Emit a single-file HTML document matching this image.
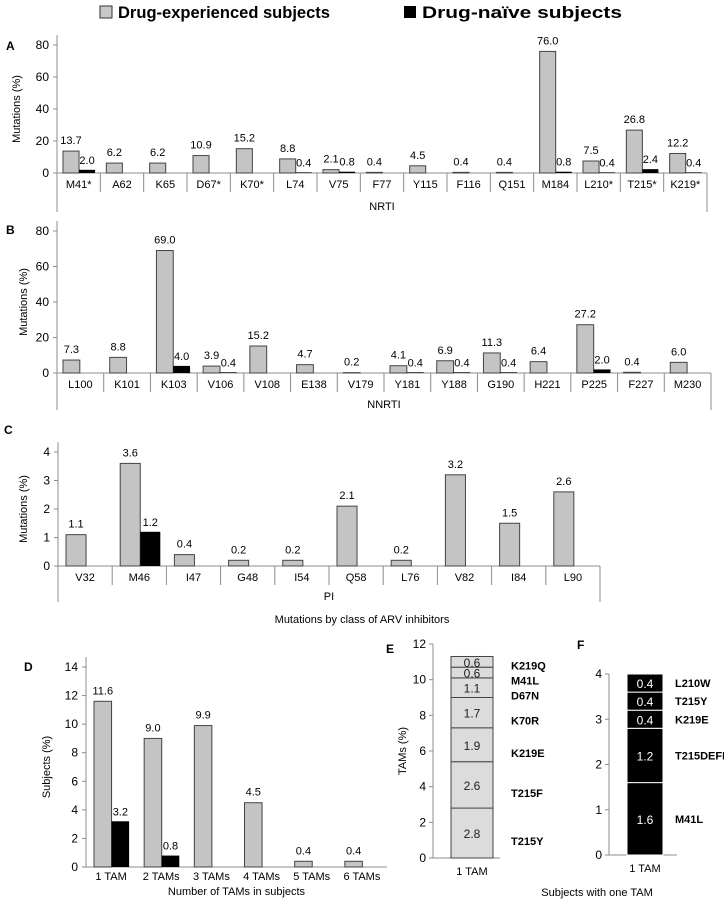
<!DOCTYPE html>
<html><head><meta charset="utf-8"><style>
body{margin:0;background:#fff}
svg{display:block;font-family:"Liberation Sans",Arial,sans-serif}
</style></head><body>
<svg id="fig" width="724" height="900" viewBox="0 0 724 900">
<g>
<rect x="100" y="6" width="12" height="12" fill="#c8c8c8" stroke="#333"/>
<text x="118" y="18" font-size="17" font-weight="bold" textLength="212" lengthAdjust="spacingAndGlyphs">Drug-experienced  subjects</text>
<rect x="404" y="6" width="12" height="12" fill="#000"/>
<text x="422" y="18" font-size="17" font-weight="bold" textLength="200" lengthAdjust="spacingAndGlyphs">Drug-naïve  subjects</text>
</g>
<text x="362" y="623" font-size="11" text-anchor="middle">Mutations  by class of ARV inhibitors</text>
</svg>
<script>
const nrtiCats=["M41*","A62","K65","D67*","K70*","L74","V75","F77","Y115","F116","Q151","M184","L210*","T215*","K219*"];
const nrtiExp=[13.7,6.2,6.2,10.9,15.2,8.8,2.1,0.4,4.5,0.4,0.4,76.0,7.5,26.8,12.2];
const nrtiNaive=[2.0,null,null,null,null,0.4,0.8,null,null,null,null,0.8,0.4,2.4,0.4];
const nrtiTicks=[0,20,40,60,80];
const nnrtiCats=["L100","K101","K103","V106","V108","E138","V179","Y181","Y188","G190","H221","P225","F227","M230"];
const nnrtiExp=[7.3,8.8,69.0,3.9,15.2,4.7,0.2,4.1,6.9,11.3,6.4,27.2,0.4,6.0];
const nnrtiNaive=[null,null,4.0,0.4,null,null,null,0.4,0.4,0.4,null,2.0,null,null];
const nnrtiTicks=[0,20,40,60,80];
const piCats=["V32","M46","I47","G48","I54","Q58","L76","V82","I84","L90"];
const piExp=[1.1,3.6,0.4,0.2,0.2,2.1,0.2,3.2,1.5,2.6];
const piNaive=[null,1.2,null,null,null,null,null,null,null,null];
const piTicks=[0,1,2,3,4];
const tamCats=["1 TAM","2 TAMs","3 TAMs","4 TAMs","5 TAMs","6 TAMs"];
const tamExp=[11.6,9.0,9.9,4.5,0.4,0.4];
const tamNaive=[3.2,0.8,null,null,null,null];
const tamTicks=[0,2,4,6,8,10,12,14];
const eLabels=["T215Y","T215F","K219E","K70R","D67N","M41L","K219Q"];
const eValues=[2.8,2.6,1.9,1.7,1.1,0.6,0.6];
const eTicks=[0,2,4,6,8,10,12];
const fLabels=["M41L","T215DEFI","K219E","T215Y","L210W"];
const fValues=[1.6,1.2,0.4,0.4,0.4];
const fTicks=[0,1,2,3,4];

const NS="http://www.w3.org/2000/svg";
const svg=document.getElementById('fig');
function mk(tag,attrs,parent,txt){const e=document.createElementNS(NS,tag);for(const k in attrs)e.setAttribute(k,attrs[k]);if(txt!==undefined)e.textContent=txt;(parent||svg).appendChild(e);return e;}
const GRAY="#c4c4c4",AX="#8c8c8c";

function grouped(o){
  const g=mk('g',{});
  
  
  const y=v=>o.y0-(v/o.max)*(o.y0-o.yTop);
  const cw=(o.x1-o.x0)/o.cats.length;
  const ya=mk('line',{x1:o.x0,y1:o.yTop-10,x2:o.x0,y2:o.y0,stroke:AX},g);
  
  
  o.ticks.forEach(t=>{
    mk('line',{x1:o.x0-4,y1:y(t),x2:o.x0,y2:y(t),stroke:AX},g);
    const tl=mk('text',{x:o.x0-8,y:y(t)+4,'font-size':12,'text-anchor':'end'},g,String(t));
    
    
  });
  const xa=mk('line',{x1:o.x0,y1:o.y0,x2:o.x1,y2:o.y0,stroke:AX},g);
  
  
  const yt=mk('text',{x:0,y:0,'font-size':11,'text-anchor':'middle',transform:`translate(${o.ytX},${(o.y0+o.yTop)/2}) rotate(-90)`},g,o.yTitle);
  
  
  const pl=mk('text',{x:o.letterX,y:o.letterY,'font-size':12,'font-weight':'bold'},g,o.letter);
  
  
  const bw=cw*o.barFrac;
  o.cats.forEach((c,i)=>{
    const cx=o.x0+cw*i;
    if(o.cells){
      mk('line',{x1:cx+cw,y1:o.y0,x2:cx+cw,y2:o.y0+19,stroke:AX},g);
    }
    const cl=mk('text',{x:cx+cw/2,y:o.y0+(o.cells?15:13),'font-size':o.catSize||11,'text-anchor':'middle'},g,c);
    
    
    const gx=cx+o.off;
    const ge=o.exp[i];
    if(ge!=null){
      const r=mk('rect',{x:gx,y:y(ge),width:bw,height:o.y0-y(ge),fill:GRAY,stroke:'#444','stroke-width':1},g);
      
      
      const vl=mk('text',{x:gx+bw/2,y:y(ge)-7,'font-size':11,'text-anchor':'middle'},g,ge.toFixed(1));
      
      
    }
    const nv=o.naive[i];
    if(nv!=null){
      const r=mk('rect',{x:gx+bw,y:y(nv),width:bw,height:o.y0-y(nv),fill:'#000'},g);
      
      
      const vl=mk('text',{x:gx+bw*1.5,y:y(nv)-6,'font-size':11,'text-anchor':'middle'},g,nv.toFixed(1));
      
      
    }
  });
  if(o.cells){
    mk('line',{x1:o.x0,y1:o.y0,x2:o.x0,y2:o.extY,stroke:AX},g);
    mk('line',{x1:o.x1,y1:o.y0,x2:o.x1,y2:o.extY,stroke:AX},g);
    const gl=mk('text',{x:(o.x0+o.x1)/2,y:o.groupY,'font-size':11,'text-anchor':'middle'},g,o.group);
    
    
  }
  if(o.xTitle){
    const xt=mk('text',{x:(o.x0+o.x1)/2,y:o.xTitleY,'font-size':11,'text-anchor':'middle'},g,o.xTitle);
    
    
  }
}
grouped({name:'panel-a-nrti',letter:'A',letterX:6,letterY:50,cats:nrtiCats,exp:nrtiExp,naive:nrtiNaive,ticks:nrtiTicks,max:80,x0:57,x1:707,y0:173,yTop:45,off:6,barFrac:0.37,cells:true,extY:212,group:'NRTI',groupY:210,yTitle:'Mutations (%)',ytX:20});
grouped({name:'panel-b-nnrti',letter:'B',letterX:6,letterY:234,cats:nnrtiCats,exp:nnrtiExp,naive:nnrtiNaive,ticks:nnrtiTicks,max:80,x0:57,x1:711,y0:373,yTop:231,off:6,barFrac:0.36,cells:true,extY:410,group:'NNRTI',groupY:408,yTitle:'Mutations (%)',ytX:27});
grouped({name:'panel-c-pi',letter:'C',letterX:4,letterY:434,cats:piCats,exp:piExp,naive:piNaive,ticks:piTicks,max:4,x0:58,x1:600,y0:566,yTop:452,off:8,barFrac:0.37,cells:true,extY:602,group:'PI',groupY:600,yTitle:'Mutations (%)',ytX:27});
grouped({name:'panel-d-tams',letter:'D',letterX:24,letterY:671,cats:tamCats,exp:tamExp,naive:tamNaive,ticks:tamTicks,max:14,x0:86,x1:387,y0:867,yTop:667,off:8,barFrac:0.35,cells:false,catSize:11,yTitle:'Subjects (%)',ytX:50,xTitle:'Number of TAMs in subjects',xTitleY:895});

function stacked(o){
  const g=mk('g',{});
  
  
  const y=v=>o.y0-(v/o.max)*(o.y0-o.yTop);
  const ya=mk('line',{x1:o.x0,y1:o.yTop,x2:o.x0,y2:o.y0,stroke:AX},g);
  
  
  mk('line',{x1:o.x0,y1:o.y0,x2:o.x1,y2:o.y0,stroke:AX},g);
  o.ticks.forEach(t=>{
    mk('line',{x1:o.x0-4,y1:y(t),x2:o.x0,y2:y(t),stroke:AX},g);
    const tl=mk('text',{x:o.x0-7,y:y(t)+4,'font-size':12,'text-anchor':'end'},g,String(t));
    
    
  });
  let acc=0;
  let prevLabelY=Infinity;
  o.values.forEach((v,i)=>{
    const top=y(acc+v),bot=y(acc);
    const r=mk('rect',{x:o.bx,y:top,width:o.bw,height:bot-top,fill:o.fill,stroke:o.sep,'stroke-width':o.sepW},g);
    
    
    const mid=(top+bot)/2;
    const vl=mk('text',{x:o.bx+o.bw/2,y:mid+5,'font-size':12,'text-anchor':'middle',fill:o.txt},g,v.toFixed(1));
    
    
    let ly=Math.min(mid+o.lOff,prevLabelY-o.gap);
    prevLabelY=ly;
    const sl=mk('text',{x:o.lx,y:ly,'font-size':11,'font-weight':'bold'},g,o.labels[i]);
    
    
    acc+=v;
  });
  const cl=mk('text',{x:o.bx+o.bw/2,y:o.y0+17,'font-size':11,'text-anchor':'middle'},g,'1 TAM');
  
  
  const pl=mk('text',{x:o.letterX,y:o.letterY,'font-size':12,'font-weight':'bold'},g,o.letter);
  
  
  if(o.yTitle){
    const yt=mk('text',{x:0,y:0,'font-size':11,'text-anchor':'middle',transform:`translate(${o.ytX},${(o.y0+o.yTop)/2}) rotate(-90)`},g,o.yTitle);
    
    
  }
}
stacked({name:'panel-e-tam-types',letter:'E',letterX:386,letterY:653,labels:eLabels,values:eValues,ticks:eTicks,max:12,x0:433,x1:500,y0:858,yTop:644,bx:451,bw:42,fill:'#dcdcdc',sep:'#444',sepW:1,txt:'#222',lx:511,lOff:12,gap:15,yTitle:'TAMs  (%)',ytX:406});
stacked({name:'panel-f-tam-types',letter:'F',letterX:577,letterY:649,labels:fLabels,values:fValues,ticks:fTicks,max:4,x0:609,x1:677,y0:855,yTop:674,bx:627,bw:36,fill:'#000',sep:'#fff',sepW:1,txt:'#fff',lx:675,lOff:4,gap:12});
const st=mk('text',{x:597,y:896,'font-size':11,'text-anchor':'middle'},svg,'Subjects with one TAM');


</script>
</body></html>
